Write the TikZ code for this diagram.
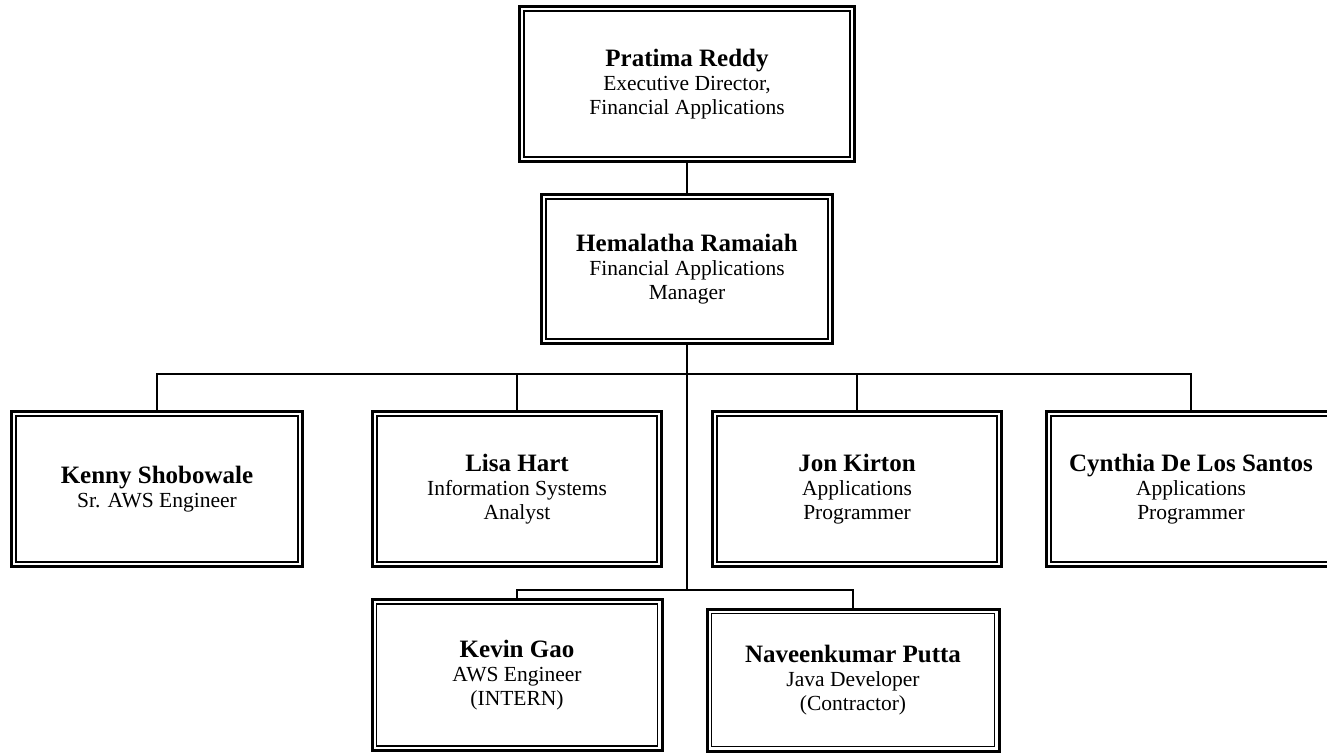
\documentclass[tikz,border=0pt]{standalone}
\usepackage{fontspec}
\setmainfont{Liberation Serif}
\newcommand{\nm}[1]{{\bfseries\fontsize{25}{26}\selectfont #1}}
\begin{document}
\begin{tikzpicture}[x=1pt,y=-1pt,
  box/.style={draw, line width=3pt, inner sep=0pt, align=center,
    font=\fontsize{21.5}{24}\selectfont,
    path picture={\draw[line width=1.4pt]
      ([shift={(4.5,4.5)}]path picture bounding box.north west) rectangle
      ([shift={(-4.5,-4.5)}]path picture bounding box.south east);}},
  conn/.style={line width=2pt}]
\useasboundingbox (0,0) rectangle (1327,755);
\node[box, minimum width=335, minimum height=155] (P) at (687,84)
  {\nm{Pratima Reddy}\\Executive Director,\\Financial Applications};
\node[box, minimum width=291, minimum height=149] (H) at (687,269)
  {\nm{Hemalatha Ramaiah}\\Financial Applications\\Manager};
\node[box, minimum width=291, minimum height=155] (K) at (157,489)
  {\nm{Kenny Shobowale}\\Sr. AWS Engineer};
\node[box, minimum width=289, minimum height=155] (L) at (517,489)
  {\nm{Lisa Hart}\\Information Systems\\Analyst};
\node[box, minimum width=289, minimum height=155] (J) at (857,489)
  {\nm{Jon Kirton}\\Applications\\Programmer};
\node[box, minimum width=289, minimum height=155] (C) at (1191,489)
  {\nm{Cynthia De Los Santos}\\Applications\\Programmer};
\node[box, minimum width=290, minimum height=151] (G) at (517,675)
  {\nm{Kevin Gao}\\AWS Engineer\\(INTERN)};
\node[box, minimum width=292, minimum height=142] (N) at (853,680)
  {\nm{Naveenkumar Putta}\\Java Developer\\(Contractor)};
\coordinate (b1) at (687,374);
\coordinate (b2) at (687,590);
\draw[conn] (P.south) -- (H.north);
\draw[conn] (H.south) -- (b1) -- (b2);
\draw[conn] (b1) -| (K.north);
\draw[conn] (b1) -| (L.north);
\draw[conn] (b1) -| (J.north);
\draw[conn] (b1) -| (C.north);
\draw[conn] (b2) -| (G.north);
\draw[conn] (b2) -| (N.north);
\end{tikzpicture}
\end{document}
